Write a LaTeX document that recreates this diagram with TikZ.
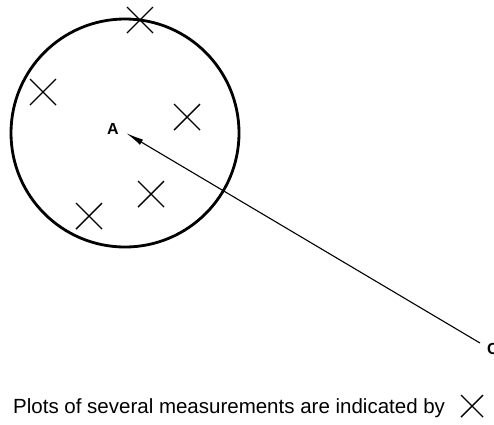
\documentclass[tikz,border=0pt]{standalone}
\usepackage{fontspec}
\setmainfont{Liberation Sans}
\usetikzlibrary{arrows.meta}
\begin{document}
\begin{tikzpicture}[x=1pt,y=-1pt,
  xmark/.style={line width=1.4pt},
  lbl/.style={inner sep=0pt,font=\fontsize{16}{16}\bfseries}]
\useasboundingbox (0,0) rectangle (494,424);
\def\cross#1#2#3{\draw[xmark] (#1-#3,#2-#3) -- (#1+#3,#2+#3) (#1-#3,#2+#3) -- (#1+#3,#2-#3);}
\draw[line width=2.8pt] (125,133) circle[radius=114];
\cross{140}{20}{13}
\cross{43}{92}{13}
\cross{187}{117}{13}
\cross{151}{194}{13}
\cross{89}{216}{13}
\coordinate (a) at (126,133);
\coordinate (cend) at (480,343);
\node[lbl,anchor=base] (A) at (113,134) {A};
\node[lbl,anchor=base west] (C) at (487,354) {C};
\draw[line width=1.1pt,-{Latex[length=18pt,width=6pt]}] (cend) -- (a);
\node[inner sep=0pt,anchor=base west,font=\fontsize{20.5}{20.5}\selectfont] (t) at (13,413) {Plots of several measurements are indicated by};
\cross{472}{406}{11}
\end{tikzpicture}
\end{document}
